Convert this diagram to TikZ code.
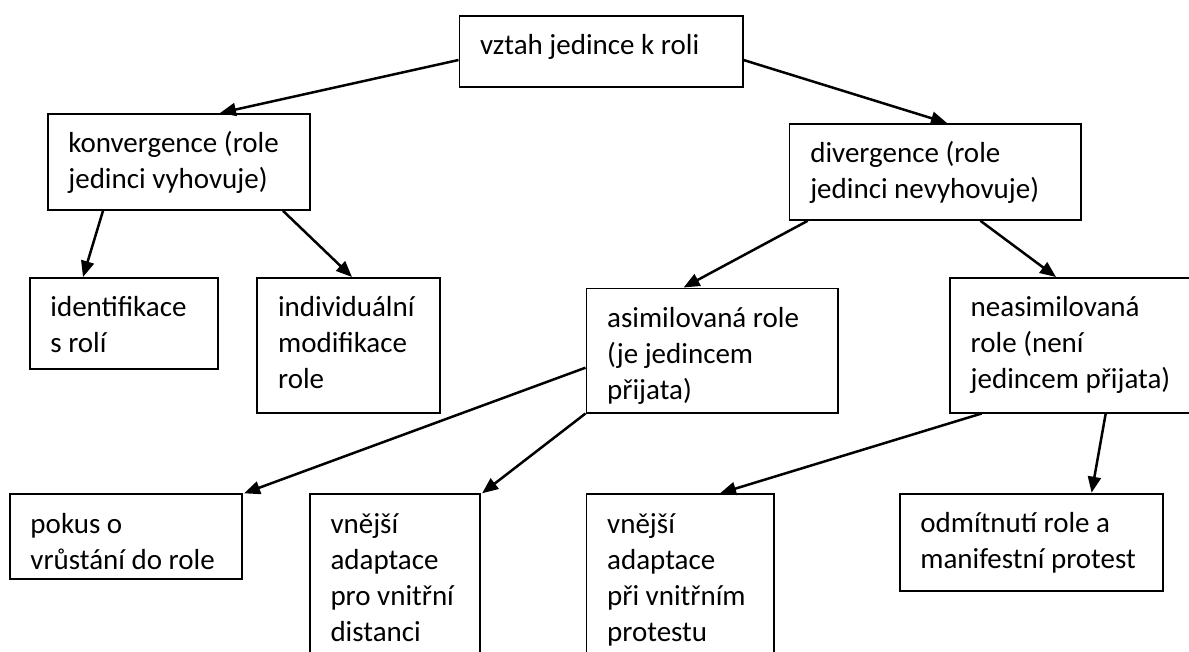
\documentclass[tikz,border=0pt]{standalone}
\usepackage{fontspec}
\setmainfont{Carlito}
\usetikzlibrary{arrows.meta,calc}
\tikzset{
  box/.style={draw=black, line width=1.8pt, inner sep=0pt, anchor=north west, rectangle},
  txt/.style={inner sep=0pt, anchor=north west, align=left, font=\fontsize{29}{36}\selectfont},
  arr/.style={line width=2.5pt, -{Triangle[length=16pt,width=13pt]}}
}
\begin{document}
\begin{tikzpicture}[x=1pt,y=-1pt]
\clip (0,0) rectangle (1189,651);
\fill[white] (0,0) rectangle (1189,651);
% boxes
\node[box, minimum width=283.2pt, minimum height=71pt]   (T)  at (458.5,15) {};
\node[box, minimum width=262.5pt, minimum height=96pt]   (K)  at (46.7,113) {};
\node[box, minimum width=291.1pt, minimum height=96pt]   (D)  at (788.6,123) {};
\node[box, minimum width=188.7pt, minimum height=90.7pt] (I)  at (28.7,277) {};
\node[box, minimum width=182.9pt, minimum height=134.7pt] (M) at (256.4,277) {};
\node[box, minimum width=251.7pt, minimum height=124.2pt] (A) at (585.5,287.5) {};
\node[box, minimum width=260pt, minimum height=134.7pt]  (N)  at (949,277) {};
\node[box, minimum width=232.3pt, minimum height=84.4pt] (P)  at (8.8,493.3) {};
\node[box, minimum width=170.3pt, minimum height=180pt]  (V1) at (308.8,493.3) {};
\node[box, minimum width=187.9pt, minimum height=180pt]  (V2) at (585.5,493.3) {};
\node[box, minimum width=263.2pt, minimum height=97.3pt] (O)  at (898.7,492.7) {};
% texts
\node[txt] (tT)  at ($(T.north west)+(21.5,14.3)$)  {\strut vztah jedince k roli};
\node[txt] (tK)  at ($(K.north west)+(21.5,14.3)$)  {\strut konvergence (role\\jedinci vyhovuje)};
\node[txt] (tD)  at ($(D.north west)+(21.5,14.3)$)  {\strut divergence (role\\jedinci nevyhovuje)};
\node[txt] (tI)  at ($(I.north west)+(21.5,14.3)$)  {\strut identifikace\\s rolí};
\node[txt] (tM)  at ($(M.north west)+(21.5,14.3)$)  {\strut individuální\\modifikace\\role};
\node[txt] (tA)  at ($(A.north west)+(21.5,14.3)$)  {\strut asimilovaná role\\(je jedincem\\přijata)};
\node[txt] (tN)  at ($(N.north west)+(21.5,14.3)$)  {\strut neasimilovaná\\role (není\\jedincem přijata)};
\node[txt] (tP)  at ($(P.north west)+(21.5,14.3)$)  {\strut pokus o\\vrůstání do role};
\node[txt] (tV1) at ($(V1.north west)+(21.5,14.3)$) {\strut vnější\\adaptace\\pro vnitřní\\distanci};
\node[txt] (tV2) at ($(V2.north west)+(21.5,14.3)$) {\strut vnější\\adaptace\\při vnitřním\\protestu};
\node[txt] (tO)  at ($(O.north west)+(21.5,14.3)$)  {\strut odmítnutí role a\\manifestní protest};
% arrows
\draw[arr] ($(T.north west)+(0,45)$) -- ($(K.north west)+(173.3,0)$);
\draw[arr] ($(T.north east)+(0,45)$) -- ($(D.north west)+(158.4,0)$);
\draw[arr] ($(K.south west)+(56.3,0)$) -- ($(I.north west)+(54.3,0)$);
\draw[arr] ($(K.south west)+(236.3,0)$) -- ($(M.north west)+(95.6,0)$);
\draw[arr] ($(D.south west)+(19.1,0)$) -- ($(A.north west)+(98.1,0)$);
\draw[arr] ($(D.south west)+(191.8,0)$) -- ($(N.north west)+(107,0)$);
\draw[arr] ($(A.north west)+(0,80.2)$) -- ($(P.north east)+(1.2,0)$);
\draw[arr] (A.south west) -- ($(V1.north east)+(1.2,0)$);
\draw[arr] ($(N.south west)+(32.6,0)$) -- ($(V2.north west)+(134.5,0)$);
\draw[arr] ($(N.south west)+(156.7,0)$) -- ($(O.north west)+(192.9,0)$);
\end{tikzpicture}
\end{document}
